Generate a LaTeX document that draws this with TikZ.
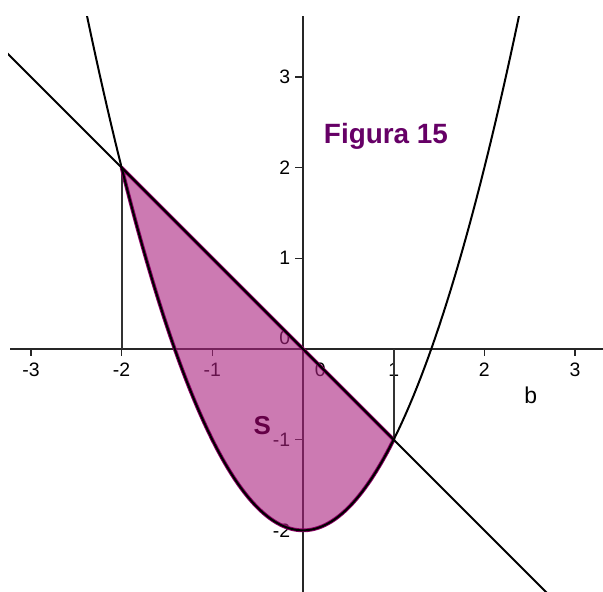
\documentclass[tikz,border=0pt]{standalone}
\usepackage{fontspec}
\setmainfont{Liberation Sans}
\definecolor{regS}{RGB}{170,33,127}
\definecolor{edgeS}{RGB}{140,0,100}
\definecolor{titlecol}{RGB}{102,0,102}
\definecolor{labS}{RGB}{100,0,70}
\begin{document}
\begin{tikzpicture}[x=3.2cm,y=3.2cm,
  ticklab/.style={font=\fontsize{19.5}{21}\selectfont,inner sep=0pt},
  axisline/.style={line width=1.9pt,black!85}]
  \useasboundingbox (-3.341,-2.679) rectangle (3.308,3.848);
  % axes
  \draw[axisline] (-3.23,0) -- (3.308,0);
  \draw[axisline] (0,-2.679) -- (0,3.67);
  \foreach \x in {-3,-2,-1,1,2,3} { \draw[line width=1.5pt,black!85] (\x,0) -- (\x,-0.075); \node[ticklab] (tx\x) at (\x,-0.23) {\x}; }
  \foreach \y in {-2,-1,1,2,3} { \draw[line width=1.5pt,black!85] (0,\y) -- (-0.085,\y); \node[ticklab,anchor=east] (ty\y) at (-0.14,\y) {\y}; }
  \node[ticklab] (tx0) at (0.19,-0.23) {0};
  \node[ticklab,anchor=east] (ty0) at (-0.14,0.12) {0};
  \node[font=\fontsize{23}{25}\selectfont] (blab) at (2.51,-0.51) {b};
  % intersection points
  \coordinate (A) at (-2,2);
  \coordinate (B) at (1,-1);
  \draw[line width=1.9pt,black!80] (A) -- (A |- 0,0);
  \draw[line width=1.9pt,black!80] (B) -- (B |- 0,0);
  % region S
  \fill[regS, fill opacity=0.6] (A) -- (B) -- plot[domain=1:-2,samples=80] (\x,{(\x)*(\x)-2}) -- cycle;
  \draw[edgeS, line width=3.8pt, line join=round] (A) -- (B) -- plot[domain=1:-2,samples=80] (\x,{(\x)*(\x)-2}) -- cycle;
  % curves
  \begin{scope}
    \clip (-3.25,-2.679) rectangle (3.308,3.67);
    \draw[line width=2pt] plot[domain=-2.45:2.45,samples=120] (\x,{(\x)*(\x)-2});
    \draw[line width=2pt] (-3.4,3.4) -- (2.8,-2.8);
  \end{scope}
  \node[font=\fontsize{26}{28}\selectfont\bfseries, labS] (slab) at (-0.45,-0.85) {S};
  \node[font=\fontsize{28}{30}\selectfont\bfseries, titlecol] (figura) at (0.915,2.35) {Figura 15};
\end{tikzpicture}
\end{document}
